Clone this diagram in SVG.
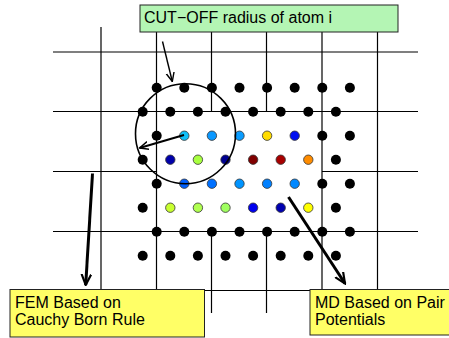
<svg xmlns="http://www.w3.org/2000/svg" width="449" height="338" viewBox="0 0 449 338">
<defs>
<style>
.g{stroke:#000;stroke-width:1.2;fill:none}
.k{fill:#000}
.c{stroke:#333;stroke-width:0.8}
.t{font-family:"Liberation Sans",Arial,sans-serif;font-size:16px;fill:#000}
.box{stroke:#222;stroke-width:1}
.arr{stroke:#000;fill:none}
</style>
<marker id="v" viewBox="0 0 10 10" refX="9" refY="5" markerWidth="10" markerHeight="10" markerUnits="userSpaceOnUse" orient="auto">
<path d="M0,1 L9,5 L0,9" fill="none" stroke="#000" stroke-width="1.4"/>
</marker>
<marker id="vt" viewBox="0 0 10 10" refX="9" refY="5" markerWidth="12" markerHeight="12" markerUnits="userSpaceOnUse" orient="auto">
<path d="M0,1 L9,5 L0,9" fill="none" stroke="#000" stroke-width="1.8"/>
</marker>
</defs>
<rect width="449" height="338" fill="#fff"/>
<g id="grid" class="g">
<line x1="53" y1="52" x2="418" y2="52"/>
<line x1="53" y1="111.5" x2="418" y2="111.5"/>
<line x1="53" y1="171.5" x2="156" y2="171.5"/>
<line x1="322" y1="171.5" x2="418" y2="171.5"/>
<line x1="53" y1="231.5" x2="418" y2="231.5"/>
<line x1="53" y1="290.5" x2="418" y2="290.5"/>
<line x1="101" y1="27" x2="101" y2="313"/>
<line x1="156.5" y1="32" x2="156.5" y2="313"/>
<line x1="211.5" y1="32" x2="211.5" y2="111.5"/>
<line x1="211.5" y1="231.5" x2="211.5" y2="313"/>
<line x1="266.5" y1="32" x2="266.5" y2="111.5"/>
<line x1="266.5" y1="231.5" x2="266.5" y2="313"/>
<line x1="322" y1="32" x2="322" y2="313"/>
<line x1="377.5" y1="32" x2="377.5" y2="313"/>
</g>
<g id="atoms">
<g class="k">
<circle cx="156.7" cy="87.7" r="5"/><circle cx="184.3" cy="87.7" r="5"/><circle cx="211.9" cy="87.7" r="5"/><circle cx="239.5" cy="87.7" r="5"/><circle cx="267.1" cy="87.7" r="5"/><circle cx="294.7" cy="87.7" r="5"/><circle cx="322.3" cy="87.7" r="5"/><circle cx="349.9" cy="87.7" r="5"/>
<circle cx="142.7" cy="111.7" r="5"/><circle cx="170.3" cy="111.7" r="5"/><circle cx="197.9" cy="111.7" r="5"/><circle cx="225.5" cy="111.7" r="5"/><circle cx="253.1" cy="111.7" r="5"/><circle cx="280.7" cy="111.7" r="5"/><circle cx="308.3" cy="111.7" r="5"/><circle cx="335.9" cy="111.7" r="5"/>
<circle cx="156.7" cy="135.7" r="5"/><circle cx="322.3" cy="135.7" r="5"/><circle cx="349.9" cy="135.7" r="5"/>
<circle cx="142.7" cy="159.7" r="5"/><circle cx="335.9" cy="159.7" r="5"/>
<circle cx="156.7" cy="183.7" r="5"/><circle cx="322.3" cy="183.7" r="5"/><circle cx="349.9" cy="183.7" r="5"/>
<circle cx="142.7" cy="207.7" r="5"/><circle cx="335.9" cy="207.7" r="5"/>
<circle cx="156.7" cy="231.7" r="5"/><circle cx="184.3" cy="231.7" r="5"/><circle cx="211.9" cy="231.7" r="5"/><circle cx="239.5" cy="231.7" r="5"/><circle cx="267.1" cy="231.7" r="5"/><circle cx="294.7" cy="231.7" r="5"/><circle cx="322.3" cy="231.7" r="5"/><circle cx="349.9" cy="231.7" r="5"/>
<circle cx="142.7" cy="255.7" r="5"/><circle cx="170.3" cy="255.7" r="5"/><circle cx="197.9" cy="255.7" r="5"/><circle cx="225.5" cy="255.7" r="5"/><circle cx="253.1" cy="255.7" r="5"/><circle cx="280.7" cy="255.7" r="5"/><circle cx="308.3" cy="255.7" r="5"/><circle cx="335.9" cy="255.7" r="5"/>
</g>
<g class="c">
<circle cx="184.3" cy="135.7" r="4.7" fill="#10c0f8"/><circle cx="211.9" cy="135.7" r="4.7" fill="#0a98ff"/><circle cx="239.5" cy="135.7" r="4.7" fill="#0a9cff"/><circle cx="267.1" cy="135.7" r="4.7" fill="#ffdc00"/><circle cx="294.7" cy="135.7" r="4.7" fill="#0010f0"/>
<circle cx="170.3" cy="159.7" r="4.7" fill="#0000aa"/><circle cx="197.9" cy="159.7" r="4.7" fill="#a8ff40"/><circle cx="225.5" cy="159.7" r="4.7" fill="#000090"/><circle cx="253.1" cy="159.7" r="4.7" fill="#800000"/><circle cx="280.7" cy="159.7" r="4.7" fill="#a80000"/><circle cx="308.3" cy="159.7" r="4.7" fill="#ff8c00"/>
<circle cx="184.3" cy="183.7" r="4.7" fill="#0060ff"/><circle cx="211.9" cy="183.7" r="4.7" fill="#0070ff"/><circle cx="239.5" cy="183.7" r="4.7" fill="#0094ff"/><circle cx="267.1" cy="183.7" r="4.7" fill="#0080ff"/><circle cx="294.7" cy="183.7" r="4.7" fill="#0088ff"/>
<circle cx="170.3" cy="207.7" r="4.7" fill="#c8ff30"/><circle cx="197.9" cy="207.7" r="4.7" fill="#b0ff50"/><circle cx="225.5" cy="207.7" r="4.7" fill="#a0ff60"/><circle cx="253.1" cy="207.7" r="4.7" fill="#0000ee"/><circle cx="280.7" cy="207.7" r="4.7" fill="#0000b0"/><circle cx="308.3" cy="207.7" r="4.7" fill="#ffff00"/>
</g>
</g>
<g id="cutoff-circle">
<circle cx="185.5" cy="133.7" r="50" fill="none" stroke="#000" stroke-width="1.6"/>
</g>
<g id="connectors" class="arr">
<line x1="162.5" y1="41.5" x2="172.3" y2="81.5" stroke-width="1.4" marker-end="url(#v)"/>
<line x1="184" y1="135" x2="139.5" y2="148" stroke-width="2" marker-end="url(#v)"/>
<line x1="92.5" y1="173.5" x2="85.7" y2="285" stroke-width="3" marker-end="url(#vt)"/>
<line x1="288.5" y1="197" x2="345" y2="283.5" stroke-width="3" marker-end="url(#vt)"/>
</g>
<g id="label-cutoff">
<rect class="box" x="140" y="5" width="258" height="27" fill="#b4f5b4"/>
<text class="t" x="144" y="23">CUT−OFF radius of atom i</text>
</g>
<g id="label-fem">
<rect class="box" x="10" y="289.5" width="194.5" height="47.5" fill="#ffff66"/>
<text class="t" x="15" y="307.5">FEM Based on</text>
<text class="t" x="15" y="324.5">Cauchy Born Rule</text>
</g>
<g id="label-md">
<rect class="box" x="310" y="289.5" width="145" height="45.5" fill="#ffff66"/>
<text class="t" x="315" y="307.5">MD Based on Pair</text>
<text class="t" x="315" y="324.5">Potentials</text>
</g>
</svg>
